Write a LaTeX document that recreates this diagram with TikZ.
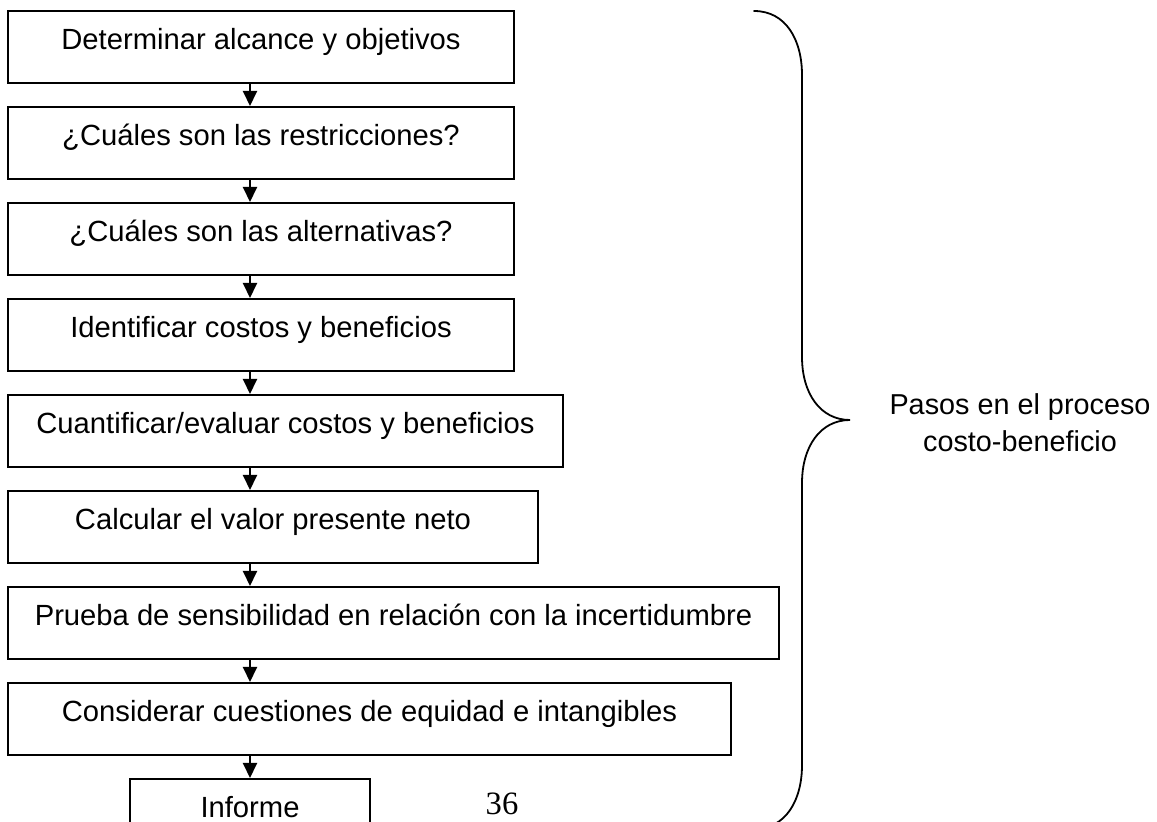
\documentclass[tikz,border=0pt]{standalone}
\usepackage{fontspec}
\setmainfont{Liberation Sans}
\newfontfamily\serifnum{Liberation Serif}
\usetikzlibrary{arrows.meta}
\tikzset{
  stepbox/.style={draw=black, line width=1pt, rectangle, inner sep=0pt,
    minimum height=36pt, text height=10pt, text depth=7pt,
    font=\fontsize{14.6}{17}\selectfont},
  flowarrow/.style={line width=1pt, -{Triangle[length=7.5pt,width=7pt]}},
  bracestyle/.style={line width=0.9pt, line cap=round},
  sidelabel/.style={align=center, font=\fontsize{14.4}{18.5}\selectfont, inner sep=0pt},
  pagenum/.style={font=\serifnum\fontsize{16.3}{18}\selectfont, inner sep=0pt}
}
\begin{document}
\begin{tikzpicture}[x=0.5pt, y=-0.5pt]
\clip (0,0) rectangle (1157,822);
\fill[white] (0,0) rectangle (1157,822);
% boxes: centre x, centre y (= top + 36), width
\node[stepbox, minimum width=253pt]   (b1) at (261,47)  {Determinar alcance y objetivos};
\node[stepbox, minimum width=253pt]   (b2) at (261,143) {¿Cuáles son las restricciones?};
\node[stepbox, minimum width=253pt]   (b3) at (261,239) {¿Cuáles son las alternativas?};
\node[stepbox, minimum width=253pt]   (b4) at (261,335) {Identificar costos y beneficios};
\node[stepbox, minimum width=277.5pt] (b5) at (285.5,431) {Cuantificar/evaluar costos y beneficios};
\node[stepbox, minimum width=265pt]   (b6) at (273,527) {Calcular el valor presente neto};
\node[stepbox, minimum width=385.5pt] (b7) at (393.5,623) {Prueba de sensibilidad en relación con la incertidumbre};
\node[stepbox, minimum width=361.5pt] (b8) at (369.5,719) {Considerar cuestiones de equidad e intangibles};
\node[stepbox, minimum width=120pt]   (b9) at (250,815) {Informe};
% arrows along x = 250
\coordinate (ax) at (250,0);
\draw[flowarrow] (b1.south -| ax) -- (b2.north -| ax);
\draw[flowarrow] (b2.south -| ax) -- (b3.north -| ax);
\draw[flowarrow] (b3.south -| ax) -- (b4.north -| ax);
\draw[flowarrow] (b4.south -| ax) -- (b5.north -| ax);
\draw[flowarrow] (b5.south -| ax) -- (b6.north -| ax);
\draw[flowarrow] (b6.south -| ax) -- (b7.north -| ax);
\draw[flowarrow] (b7.south -| ax) -- (b8.north -| ax);
\draw[flowarrow] (b8.south -| ax) -- (b9.north -| ax);
% brace
\draw[bracestyle] (754,11) .. controls (786,11) and (802,40) .. (802,75)
  -- (802,357) .. controls (802,393) and (820,420) .. (850,420)
  .. controls (820,420) and (802,447) .. (802,483)
  -- (802,765) .. controls (802,800) and (786,829) .. (754,829);
% label (base = baseline of the last line)
\node[sidelabel, anchor=base] (lbl) at (1020,452) {Pasos en el proceso\\costo-beneficio};
% page number
\node[pagenum, anchor=base] (pg) at (502,815) {36};
\end{tikzpicture}
\end{document}
